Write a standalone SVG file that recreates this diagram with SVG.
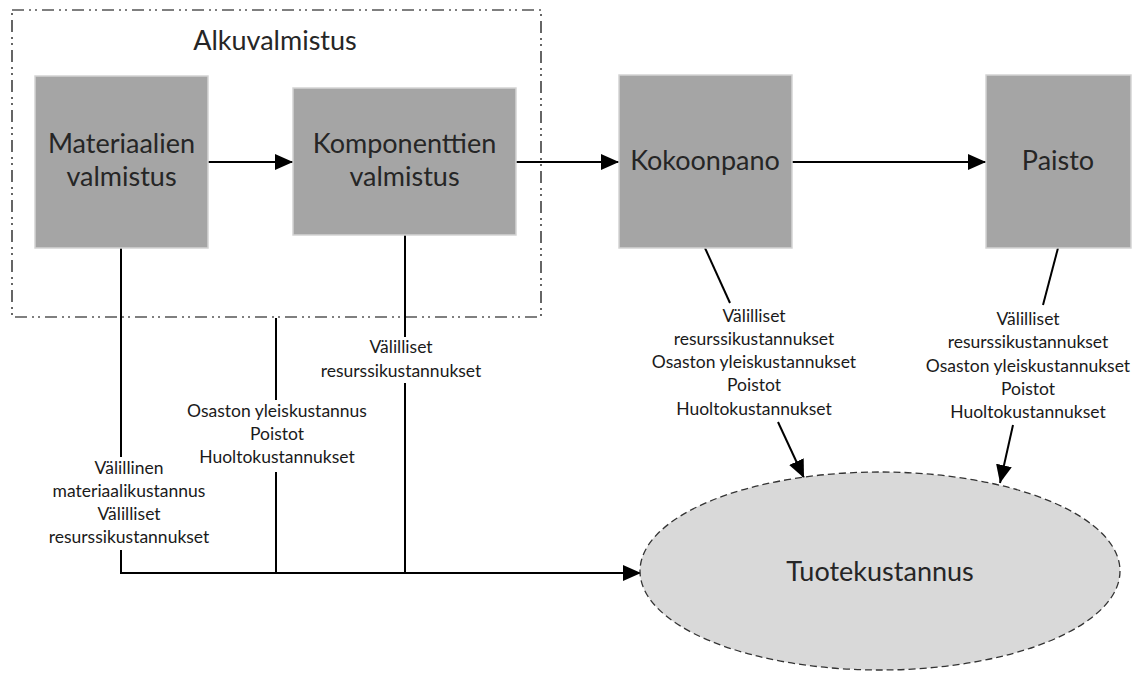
<svg xmlns="http://www.w3.org/2000/svg" width="1142" height="673" viewBox="0 0 1142 673">
<defs>
<marker id="ah" markerUnits="userSpaceOnUse" markerWidth="19" markerHeight="17" refX="18" refY="8" orient="auto">
<path d="M0,0 L18,8 L0,16 z" fill="#000"/>
</marker>
<style>
.box{fill:#a5a5a5;stroke:#d4d4d4;stroke-width:1.5}
.big{font-family:Lato,"Liberation Sans",sans-serif;font-size:27px;fill:#262626;text-anchor:middle}
.sm{font-family:Lato,"Liberation Sans",sans-serif;font-size:17.5px;fill:#1a1a1a;text-anchor:middle}
.ln{stroke:#000;stroke-width:2;fill:none}
.arr{stroke:#000;stroke-width:2;fill:none;marker-end:url(#ah)}
</style>
</defs>
<rect width="1142" height="673" fill="#fff"/>
<g id="group-alkuvalmistus">
<rect x="12" y="10" width="529" height="307" fill="none" stroke="#000" stroke-width="1.2" stroke-dasharray="12,5,2,4,2,5"/>
<text class="big" x="275" y="50">Alkuvalmistus</text>
</g>
<g id="connectors">
<line class="arr" x1="208" y1="162" x2="293" y2="162"/>
<line class="arr" x1="516" y1="162" x2="619" y2="162"/>
<line class="arr" x1="792" y1="162" x2="986" y2="162"/>
<polyline class="ln" points="121,248 121,457"/>
<polyline class="ln" points="121,550 121,573"/>
<polyline class="ln" points="276,318 276,400"/>
<polyline class="ln" points="276,472 276,573"/>
<polyline class="ln" points="405,235 405,337"/>
<polyline class="ln" points="405,383 405,573"/>
<line class="arr" x1="120" y1="573" x2="641" y2="573" stroke-width="2.6"/>
<line class="ln" x1="705" y1="248" x2="730" y2="303"/>
<line class="arr" x1="778" y1="422" x2="804" y2="478"/>
<line class="ln" x1="1058" y1="248" x2="1043" y2="305"/>
<line class="arr" x1="1013" y1="425" x2="1000" y2="483"/>
<g id="labels">
<text class="sm" x="129"><tspan x="129" y="474">Välillinen</tspan><tspan x="129" y="497">materiaalikustannus</tspan><tspan x="129" y="520">Välilliset</tspan><tspan x="129" y="543">resurssikustannukset</tspan></text>
<text class="sm" x="277"><tspan x="277" y="417">Osaston yleiskustannus</tspan><tspan x="277" y="440">Poistot</tspan><tspan x="277" y="463">Huoltokustannukset</tspan></text>
<text class="sm" x="401"><tspan x="401" y="353">Välilliset</tspan><tspan x="401" y="377">resurssikustannukset</tspan></text>
<text class="sm" x="754"><tspan x="754" y="322">Välilliset</tspan><tspan x="754" y="345">resurssikustannukset</tspan><tspan x="754" y="368">Osaston yleiskustannukset</tspan><tspan x="754" y="391">Poistot</tspan><tspan x="754" y="415">Huoltokustannukset</tspan></text>
<text class="sm" x="1028"><tspan x="1028" y="325">Välilliset</tspan><tspan x="1028" y="348">resurssikustannukset</tspan><tspan x="1028" y="372">Osaston yleiskustannukset</tspan><tspan x="1028" y="395">Poistot</tspan><tspan x="1028" y="418">Huoltokustannukset</tspan></text>
</g>
</g>
<g id="node-materiaalien">
<rect class="box" x="35" y="76" width="173" height="172"/>
<text class="big" x="121.5"><tspan x="121.5" y="153">Materiaalien</tspan><tspan x="121.5" y="186">valmistus</tspan></text>
</g>
<g id="node-komponenttien">
<rect class="box" x="293" y="88" width="223" height="147"/>
<text class="big" x="404.5"><tspan x="404.5" y="153">Komponenttien</tspan><tspan x="404.5" y="186">valmistus</tspan></text>
</g>
<g id="node-kokoonpano">
<rect class="box" x="619" y="75" width="173" height="173"/>
<text class="big" x="705" y="170">Kokoonpano</text>
</g>
<g id="node-paisto">
<rect class="box" x="986" y="75" width="145" height="173"/>
<text class="big" x="1058" y="170">Paisto</text>
</g>
<g id="node-tuotekustannus">
<ellipse cx="880" cy="571" rx="240" ry="99" fill="#d9d9d9" stroke="#333" stroke-width="1.3" stroke-dasharray="7,4"/>
<text class="big" x="880" y="581">Tuotekustannus</text>
</g>
</svg>
